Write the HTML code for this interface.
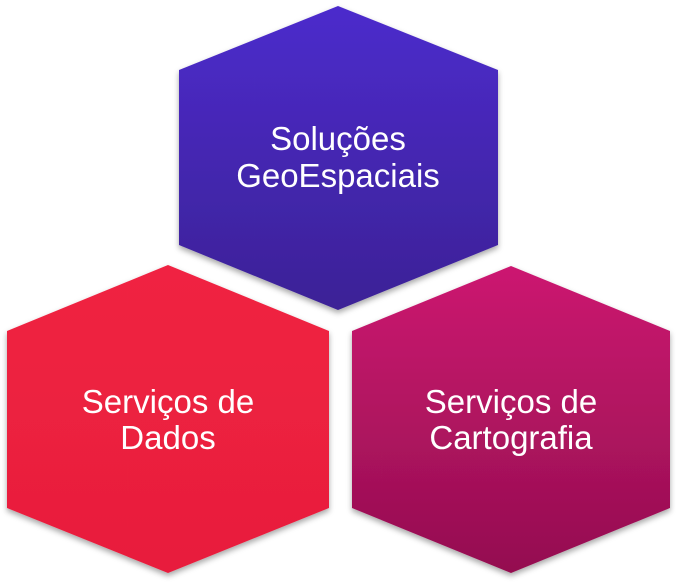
<!DOCTYPE html>
<html><head><meta charset="utf-8"><style>
html,body{margin:0;padding:0;background:#fff;width:676px;height:585px;overflow:hidden}
svg text{font-family:"Liberation Sans",sans-serif;font-size:33px;fill:#fff;text-anchor:middle}
</style></head><body>
<svg width="676" height="585" viewBox="0 0 676 585">
<defs>
<linearGradient id="gp" x1="0" y1="0" x2="0" y2="1"><stop offset="0" stop-color="#4c2bcc"/><stop offset="1" stop-color="#3c2296"/></linearGradient>
<linearGradient id="gr" x1="0" y1="0" x2="0" y2="1"><stop offset="0" stop-color="#f02242"/><stop offset="1" stop-color="#e81e3c"/></linearGradient>
<linearGradient id="gm" x1="0" y1="0" x2="0" y2="1"><stop offset="0" stop-color="#cc1870"/><stop offset="1" stop-color="#940e50"/></linearGradient>
<filter id="sh" x="-10%" y="-10%" width="120%" height="120%"><feDropShadow dx="0" dy="3" stdDeviation="3" flood-color="#000" flood-opacity="0.35"/></filter>
</defs>
<polygon points="338,6 498,70 498,245 338,310 179,245 179,70" fill="url(#gp)" filter="url(#sh)"/>
<polygon points="168,265 329,331 329,508 168,573 7,508 7,331" fill="url(#gr)" filter="url(#sh)"/>
<polygon points="511,266 670,331 670,508 511,573 352,508 352,331" fill="url(#gm)" filter="url(#sh)"/>
<text x="338" y="150">Soluções</text>
<text x="338" y="187">GeoEspaciais</text>
<text x="168" y="413">Serviços de</text>
<text x="168" y="449">Dados</text>
<text x="511" y="413">Serviços de</text>
<text x="511" y="449">Cartografia</text>
</svg>
</body></html>
